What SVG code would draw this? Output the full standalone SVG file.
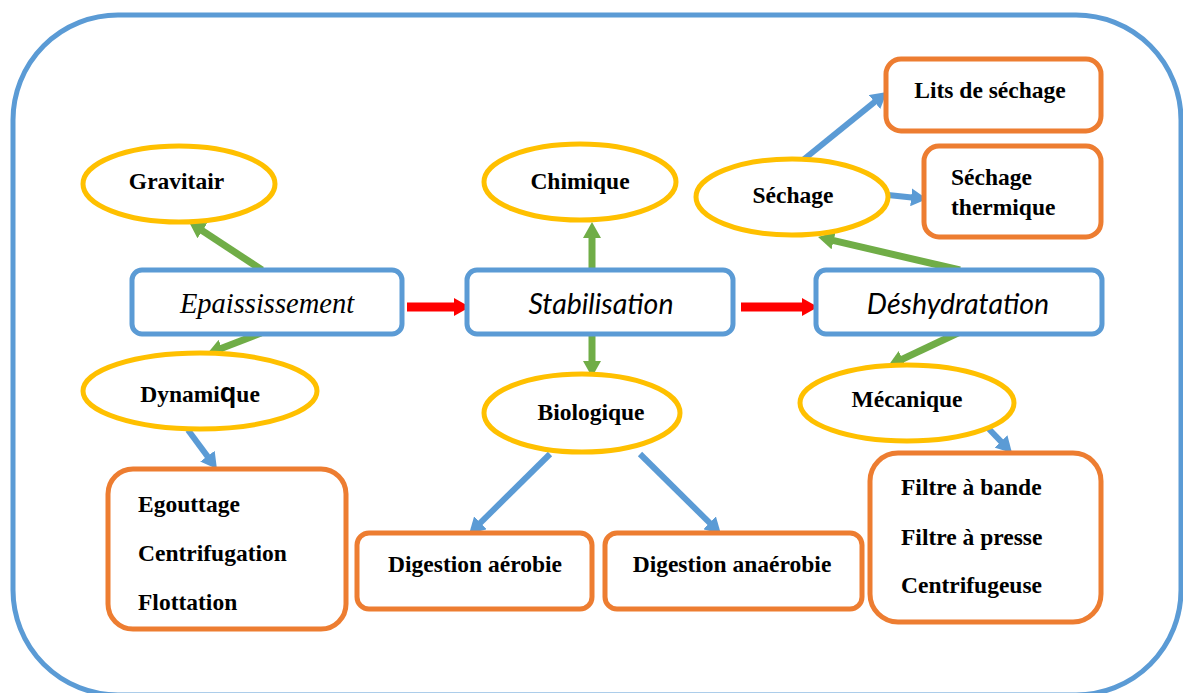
<svg xmlns="http://www.w3.org/2000/svg" width="1183" height="693" viewBox="0 0 1183 693">
<style>
.ell{fill:#fff;stroke:#FFC000;stroke-width:5}
.main{fill:#fff;stroke:#5B9BD5;stroke-width:5}
.box{fill:#fff;stroke:#ED7D31;stroke-width:5}
.t{font-family:"Liberation Serif",serif;font-weight:bold;font-size:23.5px;fill:#000}
.it{font-family:"Liberation Serif",serif;font-style:italic;font-size:28.5px;fill:#000}
.its{font-family:Lato,"Open Sans",sans-serif;font-style:italic;font-size:28.5px;fill:#000}
.g{stroke:#70AD47;stroke-width:7;fill:none;marker-end:url(#mg)}
.b{stroke:#5B9BD5;stroke-width:6;fill:none;marker-end:url(#mb)}
.r{stroke:#FF0000;stroke-width:9;fill:none;marker-end:url(#mr)}
</style>
<defs>
<marker id="mg" markerUnits="userSpaceOnUse" viewBox="0 0 16 18" refX="3" refY="9" markerWidth="16" markerHeight="18" orient="auto"><path d="M0,0 L16,9 L0,18 z" fill="#70AD47"/></marker>
<marker id="mb" markerUnits="userSpaceOnUse" viewBox="0 0 16 18" refX="3" refY="9" markerWidth="16" markerHeight="18" orient="auto"><path d="M0,0 L16,9 L0,18 z" fill="#5B9BD5"/></marker>
<marker id="mr" markerUnits="userSpaceOnUse" viewBox="0 0 16 18" refX="3" refY="9" markerWidth="16" markerHeight="18" orient="auto"><path d="M0,0 L16,9 L0,18 z" fill="#FF0000"/></marker>
</defs>
<rect width="1183" height="693" fill="#fff"/>
<rect id="frame" x="13" y="15" width="1168" height="680" rx="105" ry="105" fill="none" stroke="#5B9BD5" stroke-width="5"/>

<g id="connectors">
<line class="g" x1="262" y1="270" x2="199.9" y2="229.1"/>
<line class="g" x1="261" y1="333" x2="219.1" y2="349.3"/>
<line class="g" x1="592" y1="269" x2="592" y2="235"/>
<line class="g" x1="592" y1="334" x2="592" y2="364"/>
<line class="g" x1="960" y1="270" x2="830.7" y2="239.9"/>
<line class="g" x1="960" y1="332" x2="899.8" y2="360.4"/>
<line class="r" x1="407" y1="307" x2="457" y2="307"/>
<line class="r" x1="741" y1="307" x2="805" y2="307"/>
<line class="b" x1="188" y1="430" x2="209.2" y2="458.6"/>
<line class="b" x1="550" y1="454" x2="478.3" y2="524.9"/>
<line class="b" x1="640" y1="454" x2="711.7" y2="524.9"/>
<line class="b" x1="803" y1="160" x2="876.9" y2="100.2"/>
<line class="b" x1="888" y1="195" x2="914.1" y2="197.7"/>
<line class="b" x1="988" y1="428" x2="1003" y2="443.6"/>
</g>

<g id="epaississement"><rect class="main" x="132" y="270" width="270" height="64" rx="10"/><text class="it" x="267" y="313" text-anchor="middle">Epaississement</text></g>
<g id="stabilisation"><rect class="main" x="467" y="270" width="266" height="64" rx="10"/><text class="its" x="601" y="314" text-anchor="middle">Stabilisation</text></g>
<g id="deshydratation"><rect class="main" x="816" y="270" width="286" height="64" rx="10"/><text class="its" x="958" y="314" text-anchor="middle">Déshydratation</text></g>

<g id="gravitair"><ellipse class="ell" cx="179" cy="184" rx="96" ry="38"/><text class="t" x="176.5" y="189" text-anchor="middle">Gravitair</text></g>
<g id="dynamique"><ellipse class="ell" cx="200" cy="391" rx="117" ry="38"/><text class="t" x="200" y="402" text-anchor="middle">Dynami<tspan style="font-family:'Liberation Sans',sans-serif;font-size:27px">q</tspan>ue</text></g>
<g id="chimique"><ellipse class="ell" cx="580" cy="182" rx="96" ry="38"/><text class="t" x="580" y="189" text-anchor="middle">Chimique</text></g>
<g id="biologique"><ellipse class="ell" cx="582" cy="413" rx="98" ry="39"/><text class="t" x="591" y="420" text-anchor="middle">Biologique</text></g>
<g id="sechage"><ellipse class="ell" cx="792" cy="197" rx="96" ry="38"/><text class="t" x="793" y="203" text-anchor="middle">Séchage</text></g>
<g id="mecanique"><ellipse class="ell" cx="907" cy="403" rx="107" ry="38"/><text class="t" x="907" y="407" text-anchor="middle">Mécanique</text></g>

<g id="egouttage"><rect class="box" x="108" y="469" width="238" height="160" rx="25"/>
<text class="t" x="138" y="512">Egouttage</text><text class="t" x="138" y="561">Centrifugation</text><text class="t" x="138" y="610">Flottation</text></g>
<g id="aerobie"><rect class="box" x="357" y="533" width="235" height="76" rx="12"/><text class="t" x="475" y="572" text-anchor="middle">Digestion aérobie</text></g>
<g id="anaerobie"><rect class="box" x="605" y="533" width="257" height="76" rx="12"/><text class="t" x="732" y="572" text-anchor="middle">Digestion anaérobie</text></g>
<g id="filtre"><rect class="box" x="870" y="453" width="231" height="169" rx="28"/>
<text class="t" x="901" y="495">Filtre à bande</text><text class="t" x="901" y="545">Filtre à presse</text><text class="t" x="901" y="593">Centrifugeuse</text></g>
<g id="lits"><rect class="box" x="886" y="59" width="215" height="72" rx="15"/><text class="t" x="990" y="98" text-anchor="middle">Lits de séchage</text></g>
<g id="thermique"><rect class="box" x="924" y="146" width="177" height="91" rx="15"/><text class="t" x="951" y="185">Séchage</text><text class="t" x="951" y="215">thermique</text></g>
</svg>
